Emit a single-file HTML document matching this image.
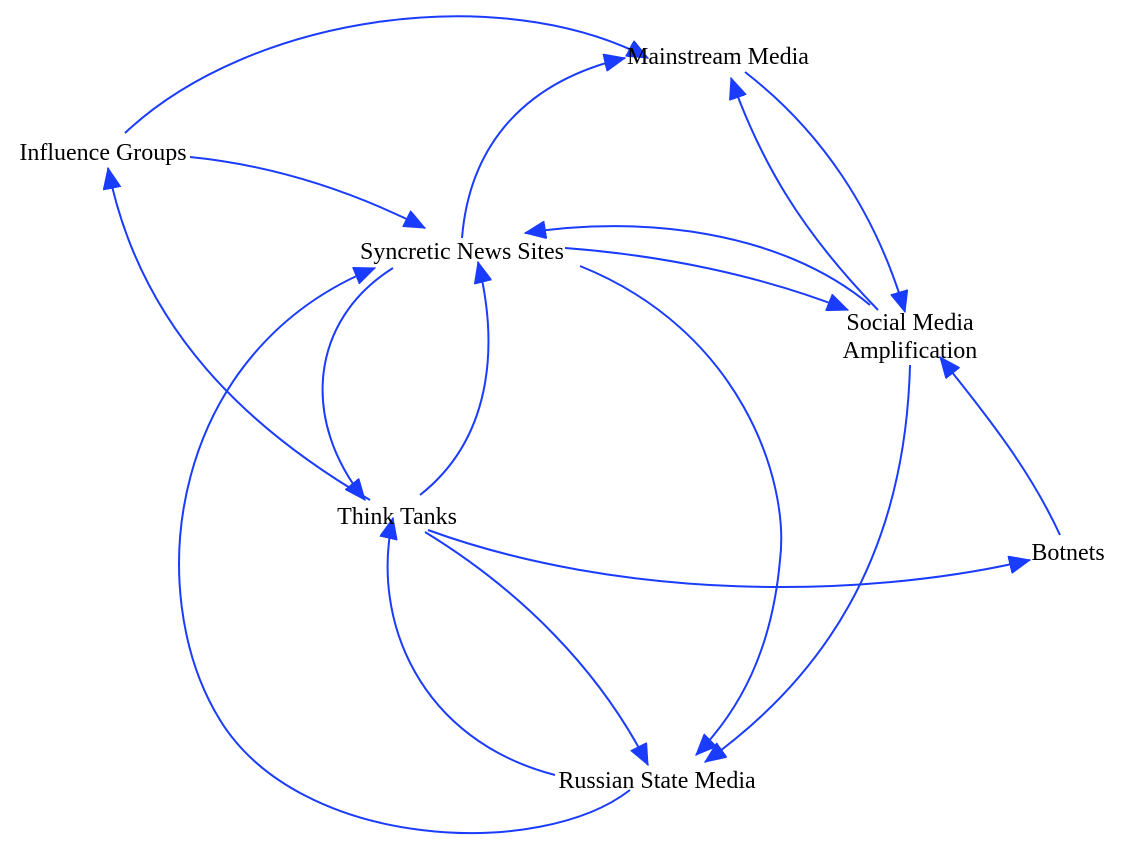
<!DOCTYPE html>
<html><head><meta charset="utf-8"><style>
html,body{margin:0;padding:0;background:#fff;}
svg{display:block;}
text{font-family:"Liberation Serif",serif;font-size:24px;fill:#000;text-anchor:middle;}
path{fill:none;stroke:#1a3cff;stroke-width:2;}
</style></head><body>
<svg width="1138" height="864" viewBox="0 0 1138 864" xmlns="http://www.w3.org/2000/svg">
<defs>
<marker id="a" markerUnits="userSpaceOnUse" markerWidth="24" markerHeight="18" refX="21" refY="9" orient="auto">
<path d="M0,0 L21,9 L0,18 Z" style="fill:#1a3cff;stroke:#1a3cff;stroke-width:1"/>
</marker>
</defs>
<path marker-end="url(#a)" d="M125,133 C250,15 500,-20 648,58"/>
<path marker-end="url(#a)" d="M190,157 C270,165 350,190 425,228"/>
<path marker-end="url(#a)" d="M370,500 C250,430 140,330 108,168"/>
<path marker-end="url(#a)" d="M462,238 C470,140 530,80 625,58"/>
<path marker-end="url(#a)" d="M878,310 C800,230 760,160 731,78"/>
<path marker-end="url(#a)" d="M745,72 C820,130 875,210 905,312"/>
<path marker-end="url(#a)" d="M870,305 C780,230 640,215 525,233"/>
<path marker-end="url(#a)" d="M565,248 C660,255 760,275 848,310"/>
<path marker-end="url(#a)" d="M580,266 C740,330 790,480 780,560 C772,650 740,710 696,755"/>
<path marker-end="url(#a)" d="M910,365 C905,560 820,680 705,762"/>
<path marker-end="url(#a)" d="M393,268 C310,320 300,420 365,500"/>
<path marker-end="url(#a)" d="M420,495 C490,440 500,350 478,262"/>
<path marker-end="url(#a)" d="M630,790 C540,860 300,850 220,720 C140,590 170,350 375,268"/>
<path marker-end="url(#a)" d="M425,532 C520,590 600,670 648,765"/>
<path marker-end="url(#a)" d="M555,775 C420,740 370,620 393,518"/>
<path marker-end="url(#a)" d="M428,530 C620,600 860,600 1030,560"/>
<path marker-end="url(#a)" d="M1060,535 C1030,470 990,420 940,357"/>
<text x="718" y="64">Mainstream Media</text>
<text x="103" y="160">Influence Groups</text>
<text x="462" y="259">Syncretic News Sites</text>
<text x="910" y="330">Social Media</text>
<text x="910" y="358">Amplification</text>
<text x="397" y="524">Think Tanks</text>
<text x="1068" y="560">Botnets</text>
<text x="657" y="788">Russian State Media</text>
</svg>
</body></html>
